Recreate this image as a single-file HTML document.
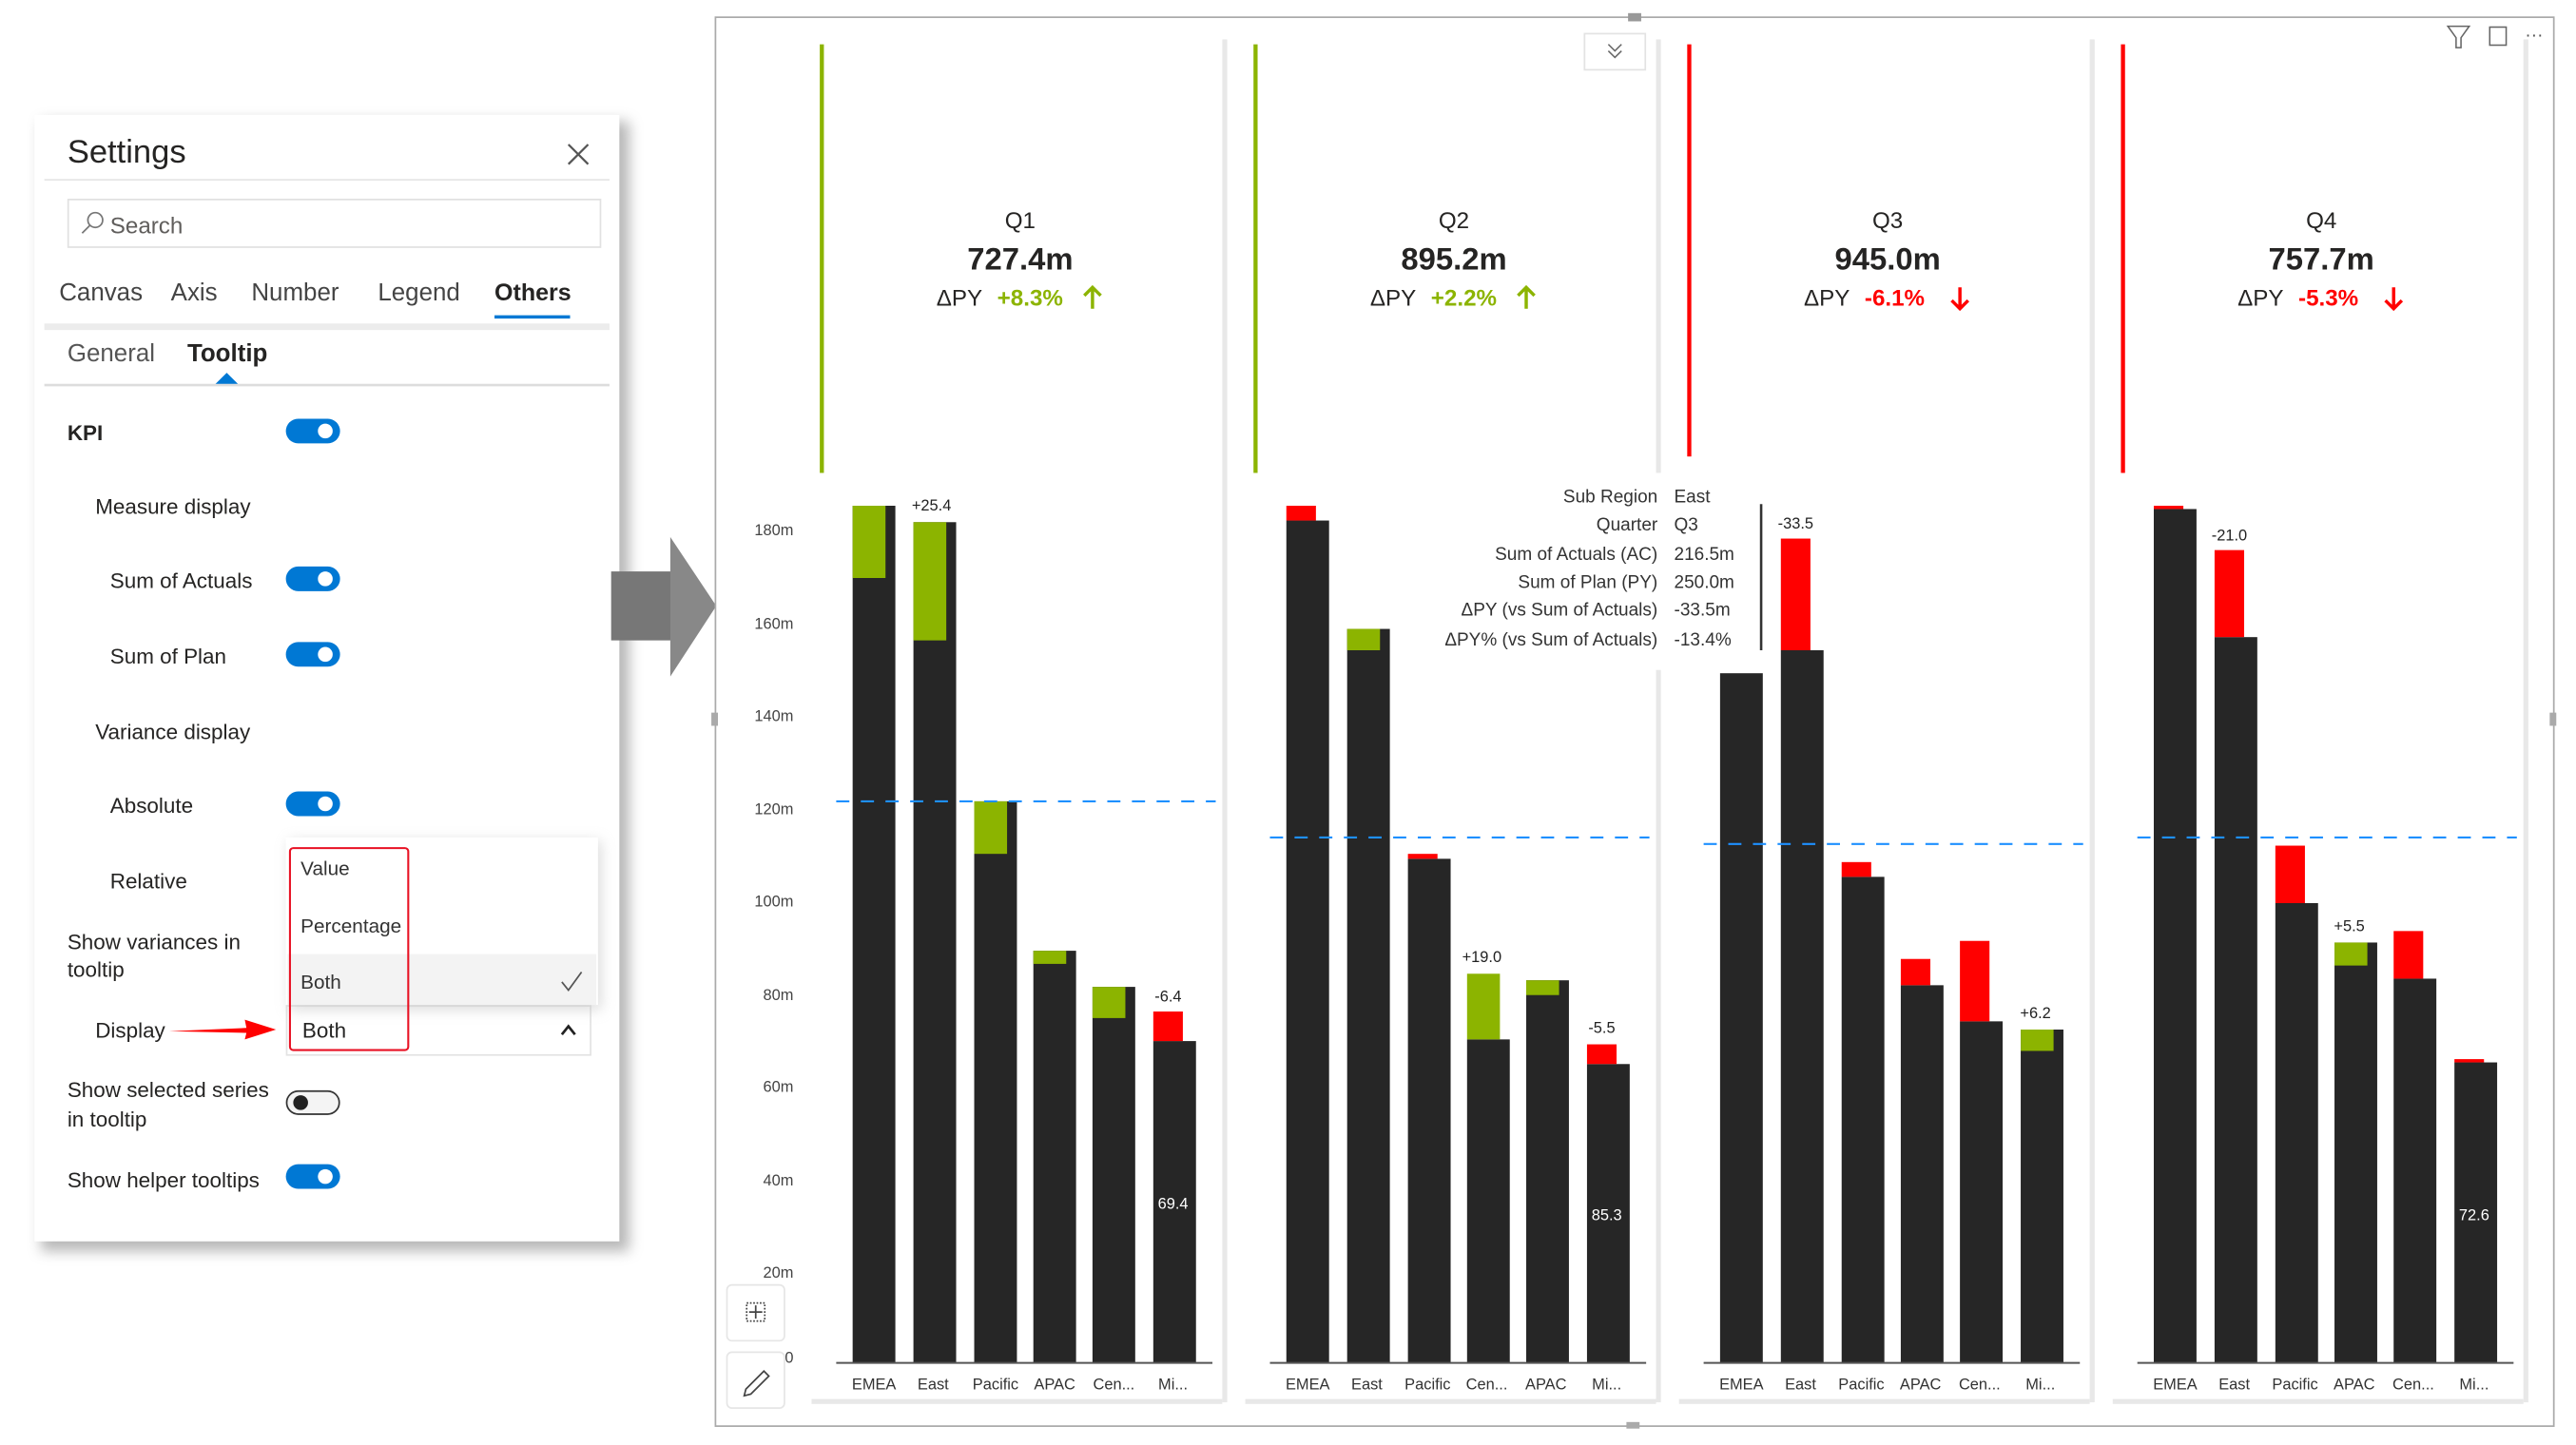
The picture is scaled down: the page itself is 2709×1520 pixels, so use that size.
<!DOCTYPE html>
<html><head><meta charset="utf-8"><style>
html,body{margin:0;padding:0;background:#fff;width:2709px;height:1520px;overflow:hidden}
svg{display:block}
text{font-family:"Liberation Sans",sans-serif}
</style></head><body>
<svg width="2709" height="1520" viewBox="0 0 1568 880" preserveAspectRatio="none" xmlns="http://www.w3.org/2000/svg">
<defs>
<filter id="sh" x="-10%" y="-10%" width="130%" height="130%"><feGaussianBlur stdDeviation="4"/></filter>
</defs>
<rect width="1568" height="880" fill="#fff"/>
<!-- settings panel -->
<rect x="25" y="74" width="358" height="688" fill="#9a9a9a" filter="url(#sh)" opacity="0.7"/>
<rect x="21" y="70" width="356" height="686" fill="#fff"/>
<text x="41" y="99" font-size="20" fill="#252423">Settings</text>
<path d="M346 88 L358 100 M358 88 L346 100" stroke="#555" stroke-width="1.3"/>
<line x1="27" y1="109.5" x2="371" y2="109.5" stroke="#e6e6e6"/>
<rect x="41.5" y="121.5" width="324" height="29" fill="#fff" stroke="#e1e1e1"/>
<circle cx="58" cy="134" r="4.5" fill="none" stroke="#777" stroke-width="1"/>
<line x1="55" y1="137" x2="50" y2="142" stroke="#777"/>
<text x="67" y="142" font-size="14" fill="#605e5c">Search</text>
<g font-size="15" fill="#444">
<text x="36" y="183">Canvas</text><text x="104" y="183">Axis</text><text x="153" y="183">Number</text><text x="230" y="183">Legend</text>
<text x="301" y="183" fill="#252423" font-weight="bold" font-size="14.5">Others</text></g>
<rect x="301" y="192" width="46" height="2" fill="#0078d4"/>
<rect x="27" y="197" width="344" height="4" fill="#ececec"/>
<text x="41" y="220" font-size="15" fill="#555">General</text>
<text x="114" y="220" font-size="15" fill="#252423" font-weight="bold">Tooltip</text>
<path d="M131 234 L138 227 L145 234 Z" fill="#0078d4"/>
<line x1="27" y1="234.5" x2="371" y2="234.5" stroke="#ddd" stroke-width="1.5"/>
<g font-size="13" fill="#252423">
<text x="41" y="268" font-weight="bold">KPI</text>
<text x="58" y="313">Measure display</text>
<text x="67" y="358">Sum of Actuals</text>
<text x="67" y="404">Sum of Plan</text>
<text x="58" y="450">Variance display</text>
<text x="67" y="495">Absolute</text>
<text x="67" y="541">Relative</text>
<text x="41" y="578">Show variances in</text>
<text x="41" y="595">tooltip</text>
<text x="58" y="632">Display</text>
<text x="41" y="668">Show selected series</text>
<text x="41" y="686">in tooltip</text>
<text x="41" y="723">Show helper tooltips</text>
</g>
<g>
<rect x="174" y="255" width="33" height="15" rx="7.5" fill="#0078d4"/><circle cx="198" cy="262.5" r="4.5" fill="#fff"/>
<rect x="174" y="345" width="33" height="15" rx="7.5" fill="#0078d4"/><circle cx="198" cy="352.5" r="4.5" fill="#fff"/>
<rect x="174" y="391" width="33" height="15" rx="7.5" fill="#0078d4"/><circle cx="198" cy="398.5" r="4.5" fill="#fff"/>
<rect x="174" y="482" width="33" height="15" rx="7.5" fill="#0078d4"/><circle cx="198" cy="489.5" r="4.5" fill="#fff"/>
<rect x="174.5" y="664.5" width="32" height="14" rx="7" fill="#f4f4f4" stroke="#333"/><circle cx="183" cy="671.5" r="4.5" fill="#222"/>
<rect x="174" y="709" width="33" height="15" rx="7.5" fill="#0078d4"/><circle cx="198" cy="716.5" r="4.5" fill="#fff"/>
</g>
<!-- dropdown -->
<rect x="174.5" y="612.5" width="185" height="30" fill="#fff" stroke="#e3e3e3"/>
<text x="184" y="632" font-size="13" fill="#252423">Both</text>
<path d="M342 630 L346 625 L350 630" fill="none" stroke="#222" stroke-width="1.6"/>
<rect x="176" y="512" width="190" height="103" fill="#bbb" filter="url(#sh)" opacity="0.5"/>
<rect x="174" y="510" width="190" height="102" fill="#fff"/>
<rect x="175" y="581" width="188" height="31" fill="#f3f3f3"/>
<g font-size="12" fill="#333"><text x="183" y="533">Value</text><text x="183" y="568">Percentage</text><text x="183" y="602">Both</text></g>
<path d="M342 598 L346 603 L354 592" fill="none" stroke="#555" stroke-width="1"/>
<rect x="176.5" y="516.5" width="72" height="123" rx="2" fill="none" stroke="#e81123" stroke-width="1.2"/>
<path d="M103 628 L150 626 L149 621 L168 627 L149 633 L150 629 Z" fill="#f00"/>
<!-- big arrow -->
<rect x="372" y="348" width="37" height="42" fill="#777"/>
<path d="M408 327 L436 369 L408 412 Z" fill="#888"/>
<!-- chart frame -->
<rect x="435.5" y="10.5" width="1119" height="858" fill="#fff" stroke="#aaa"/>
<rect x="991" y="8" width="8" height="5" fill="#999"/>
<rect x="433" y="434" width="4" height="8" fill="#aaa"/><rect x="1552" y="434" width="4" height="8" fill="#aaa"/>
<rect x="990" y="866" width="8" height="4" fill="#aaa"/>
<g fill="#e8e8e8">
<rect x="744" y="24" width="3" height="830"/><rect x="1008" y="24" width="3" height="830"/>
<rect x="1272" y="24" width="3" height="830"/><rect x="1536" y="24" width="3" height="830"/>
<rect x="758" y="852" width="250" height="3"/><rect x="1022" y="852" width="250" height="3"/><rect x="1286" y="852" width="250" height="3"/><rect x="494" y="852" width="250" height="3"/>
</g>
<!-- icons top right -->
<path d="M1490 16 L1503 16 L1498 23 L1498 29 L1495 29 L1495 23 Z" fill="none" stroke="#666" stroke-width="0.9"/>
<rect x="1515.5" y="16.5" width="10" height="11" fill="none" stroke="#666" stroke-width="0.9"/>
<text x="1537" y="25" font-size="11" fill="#555">···</text>
<rect x="964.5" y="20.5" width="37" height="22" fill="#fff" stroke="#e3e3e3"/>
<path d="M979 27 L983 31 L987 27 M979 31 L983 35 L987 31" fill="none" stroke="#666" stroke-width="0.9"/>
<!-- kpi lines -->
<rect x="499" y="27" width="2.5" height="261" fill="#8cb400"/>
<rect x="763" y="27" width="2.5" height="261" fill="#8cb400"/>
<rect x="1027" y="27" width="2.5" height="251" fill="#f00"/>
<rect x="1291" y="27" width="2.5" height="261" fill="#f00"/>
<!-- headers -->
<g text-anchor="middle" fill="#252423">
<text x="621" y="139" font-size="14">Q1</text><text x="621" y="164" font-size="19" font-weight="bold">727.4m</text>
<text x="885" y="139" font-size="14">Q2</text><text x="885" y="164" font-size="19" font-weight="bold">895.2m</text>
<text x="1149" y="139" font-size="14">Q3</text><text x="1149" y="164" font-size="19" font-weight="bold">945.0m</text>
<text x="1413" y="139" font-size="14">Q4</text><text x="1413" y="164" font-size="19" font-weight="bold">757.7m</text>
</g>
<g font-size="14">
<text x="570" y="186" fill="#252423">ΔPY</text><text x="607" y="186" fill="#8cb400" font-weight="bold">+8.3%</text>
<text x="834" y="186" fill="#252423">ΔPY</text><text x="871" y="186" fill="#8cb400" font-weight="bold">+2.2%</text>
<text x="1098" y="186" fill="#252423">ΔPY</text><text x="1135" y="186" fill="#f00" font-weight="bold">-6.1%</text>
<text x="1362" y="186" fill="#252423">ΔPY</text><text x="1399" y="186" fill="#f00" font-weight="bold">-5.3%</text>
</g>
<g stroke-width="2" fill="none">
<path d="M665 188 L665 175 M660 180 L665 175 L670 180" stroke="#8cb400"/>
<path d="M929 188 L929 175 M924 180 L929 175 L934 180" stroke="#8cb400"/>
<path d="M1193 175 L1193 188 M1188 183 L1193 188 L1198 183" stroke="#f00"/>
<path d="M1457 175 L1457 188 M1452 183 L1457 188 L1462 183" stroke="#f00"/>
</g>
<!-- y axis -->
<g font-size="9.5" fill="#444" text-anchor="end">
<text x="483" y="326">180m</text><text x="483" y="383">160m</text><text x="483" y="439">140m</text><text x="483" y="496">120m</text>
<text x="483" y="552">100m</text><text x="483" y="609">80m</text><text x="483" y="665">60m</text><text x="483" y="722">40m</text><text x="483" y="778">20m</text><text x="483" y="830">0</text>
</g>
<!-- bars -->
<g fill="#262626">
<rect x="519" y="308" width="26" height="522"/><rect x="556" y="318" width="26" height="512"/><rect x="593" y="488" width="26" height="342"/>
<rect x="629" y="579" width="26" height="251"/><rect x="665" y="601" width="26" height="229"/><rect x="702" y="634" width="26" height="196"/>
<rect x="783" y="317" width="26" height="513"/><rect x="820" y="383" width="26" height="447"/><rect x="857" y="523" width="26" height="307"/>
<rect x="893" y="633" width="26" height="197"/><rect x="929" y="597" width="26" height="233"/><rect x="966" y="648" width="26" height="182"/>
<rect x="1047" y="410" width="26" height="420"/><rect x="1084" y="396" width="26" height="434"/><rect x="1121" y="534" width="26" height="296"/>
<rect x="1157" y="600" width="26" height="230"/><rect x="1193" y="622" width="26" height="208"/><rect x="1230" y="627" width="26" height="203"/>
<rect x="1311" y="310" width="26" height="520"/><rect x="1348" y="388" width="26" height="442"/><rect x="1385" y="550" width="26" height="280"/>
<rect x="1421" y="574" width="26" height="256"/><rect x="1457" y="596" width="26" height="234"/><rect x="1494" y="647" width="26" height="183"/>
</g>
<g fill="#8cb400">
<rect x="519" y="308" width="20" height="44"/><rect x="556" y="318" width="20" height="72"/><rect x="593" y="488" width="20" height="32"/>
<rect x="629" y="579" width="20" height="8"/><rect x="665" y="601" width="20" height="19"/>
<rect x="820" y="383" width="20" height="13"/><rect x="893" y="593" width="20" height="40"/><rect x="929" y="597" width="20" height="9"/>
<rect x="1230" y="627" width="20" height="13"/><rect x="1421" y="574" width="20" height="14"/>
</g>
<g fill="#f00">
<rect x="702" y="616" width="18" height="18"/>
<rect x="783" y="308" width="18" height="9"/><rect x="857" y="520" width="18" height="3"/><rect x="966" y="636" width="18" height="12"/>
<rect x="1084" y="328" width="18" height="68"/><rect x="1121" y="525" width="18" height="9"/><rect x="1157" y="584" width="18" height="16"/><rect x="1193" y="573" width="18" height="49"/>
<rect x="1311" y="308" width="18" height="2"/><rect x="1348" y="335" width="18" height="53"/><rect x="1385" y="515" width="18" height="35"/><rect x="1457" y="567" width="18" height="29"/><rect x="1494" y="645" width="18" height="2"/>
</g>
<!-- dashed -->
<g stroke="#1e90ff" stroke-width="1.2" stroke-dasharray="8,7">
<line x1="509" y1="488" x2="740" y2="488"/><line x1="773" y1="510" x2="1004" y2="510"/>
<line x1="1037" y1="514" x2="1268" y2="514"/><line x1="1301" y1="510" x2="1532" y2="510"/>
</g>
<!-- baselines -->
<g stroke="#555" stroke-width="1.2">
<line x1="509" y1="830" x2="738" y2="830"/><line x1="773" y1="830" x2="1002" y2="830"/><line x1="1037" y1="830" x2="1266" y2="830"/><line x1="1301" y1="830" x2="1530" y2="830"/>
</g>
<g font-size="9.5" fill="#333" text-anchor="middle">
<text x="532" y="846">EMEA</text><text x="568" y="846">East</text><text x="606" y="846">Pacific</text><text x="642" y="846">APAC</text><text x="678" y="846">Cen...</text><text x="714" y="846">Mi...</text>
<text x="796" y="846">EMEA</text><text x="832" y="846">East</text><text x="869" y="846">Pacific</text><text x="905" y="846">Cen...</text><text x="941" y="846">APAC</text><text x="978" y="846">Mi...</text>
<text x="1060" y="846">EMEA</text><text x="1096" y="846">East</text><text x="1133" y="846">Pacific</text><text x="1169" y="846">APAC</text><text x="1205" y="846">Cen...</text><text x="1242" y="846">Mi...</text>
<text x="1324" y="846">EMEA</text><text x="1360" y="846">East</text><text x="1397" y="846">Pacific</text><text x="1433" y="846">APAC</text><text x="1469" y="846">Cen...</text><text x="1506" y="846">Mi...</text>
</g>
<g font-size="9.5" fill="#222" text-anchor="middle">
<text x="567" y="311">+25.4</text><text x="711" y="610">-6.4</text>
<text x="902" y="586">+19.0</text><text x="975" y="629">-5.5</text>
<text x="1093" y="322">-33.5</text><text x="1239" y="620">+6.2</text>
<text x="1357" y="329">-21.0</text><text x="1430" y="567">+5.5</text>
</g>
<g font-size="9.5" fill="#fff" text-anchor="middle">
<text x="714" y="736">69.4</text><text x="978" y="743">85.3</text><text x="1506" y="743">72.6</text>
</g>
<!-- tooltip -->
<rect x="873" y="288" width="198" height="120" fill="#fff"/>
<line x1="1072" y1="307" x2="1072" y2="396" stroke="#333" stroke-width="1.5"/>
<g font-size="11" fill="#333" text-anchor="end">
<text x="1009" y="306">Sub Region</text><text x="1009" y="323">Quarter</text><text x="1009" y="341">Sum of Actuals (AC)</text>
<text x="1009" y="358">Sum of Plan (PY)</text><text x="1009" y="375">ΔPY (vs Sum of Actuals)</text><text x="1009" y="393">ΔPY% (vs Sum of Actuals)</text>
</g>
<g font-size="11" fill="#333">
<text x="1019" y="306">East</text><text x="1019" y="323">Q3</text><text x="1019" y="341">216.5m</text>
<text x="1019" y="358">250.0m</text><text x="1019" y="375">-33.5m</text><text x="1019" y="393">-13.4%</text>
</g>
<!-- bottom left buttons -->
<rect x="442.5" y="782.5" width="35" height="34" rx="3" fill="#fff" stroke="#e6e6e6"/>
<rect x="454.5" y="793.5" width="11" height="11" fill="none" stroke="#444" stroke-dasharray="1,1"/>
<path d="M456 799 H464 M460 795 V803" stroke="#444"/>
<rect x="442.5" y="823.5" width="35" height="34" rx="3" fill="#fff" stroke="#e6e6e6"/>
<path d="M454 846 L465 835 L468 838 L457 849 L453 850 Z" fill="none" stroke="#444"/>
</svg>
</body></html>
